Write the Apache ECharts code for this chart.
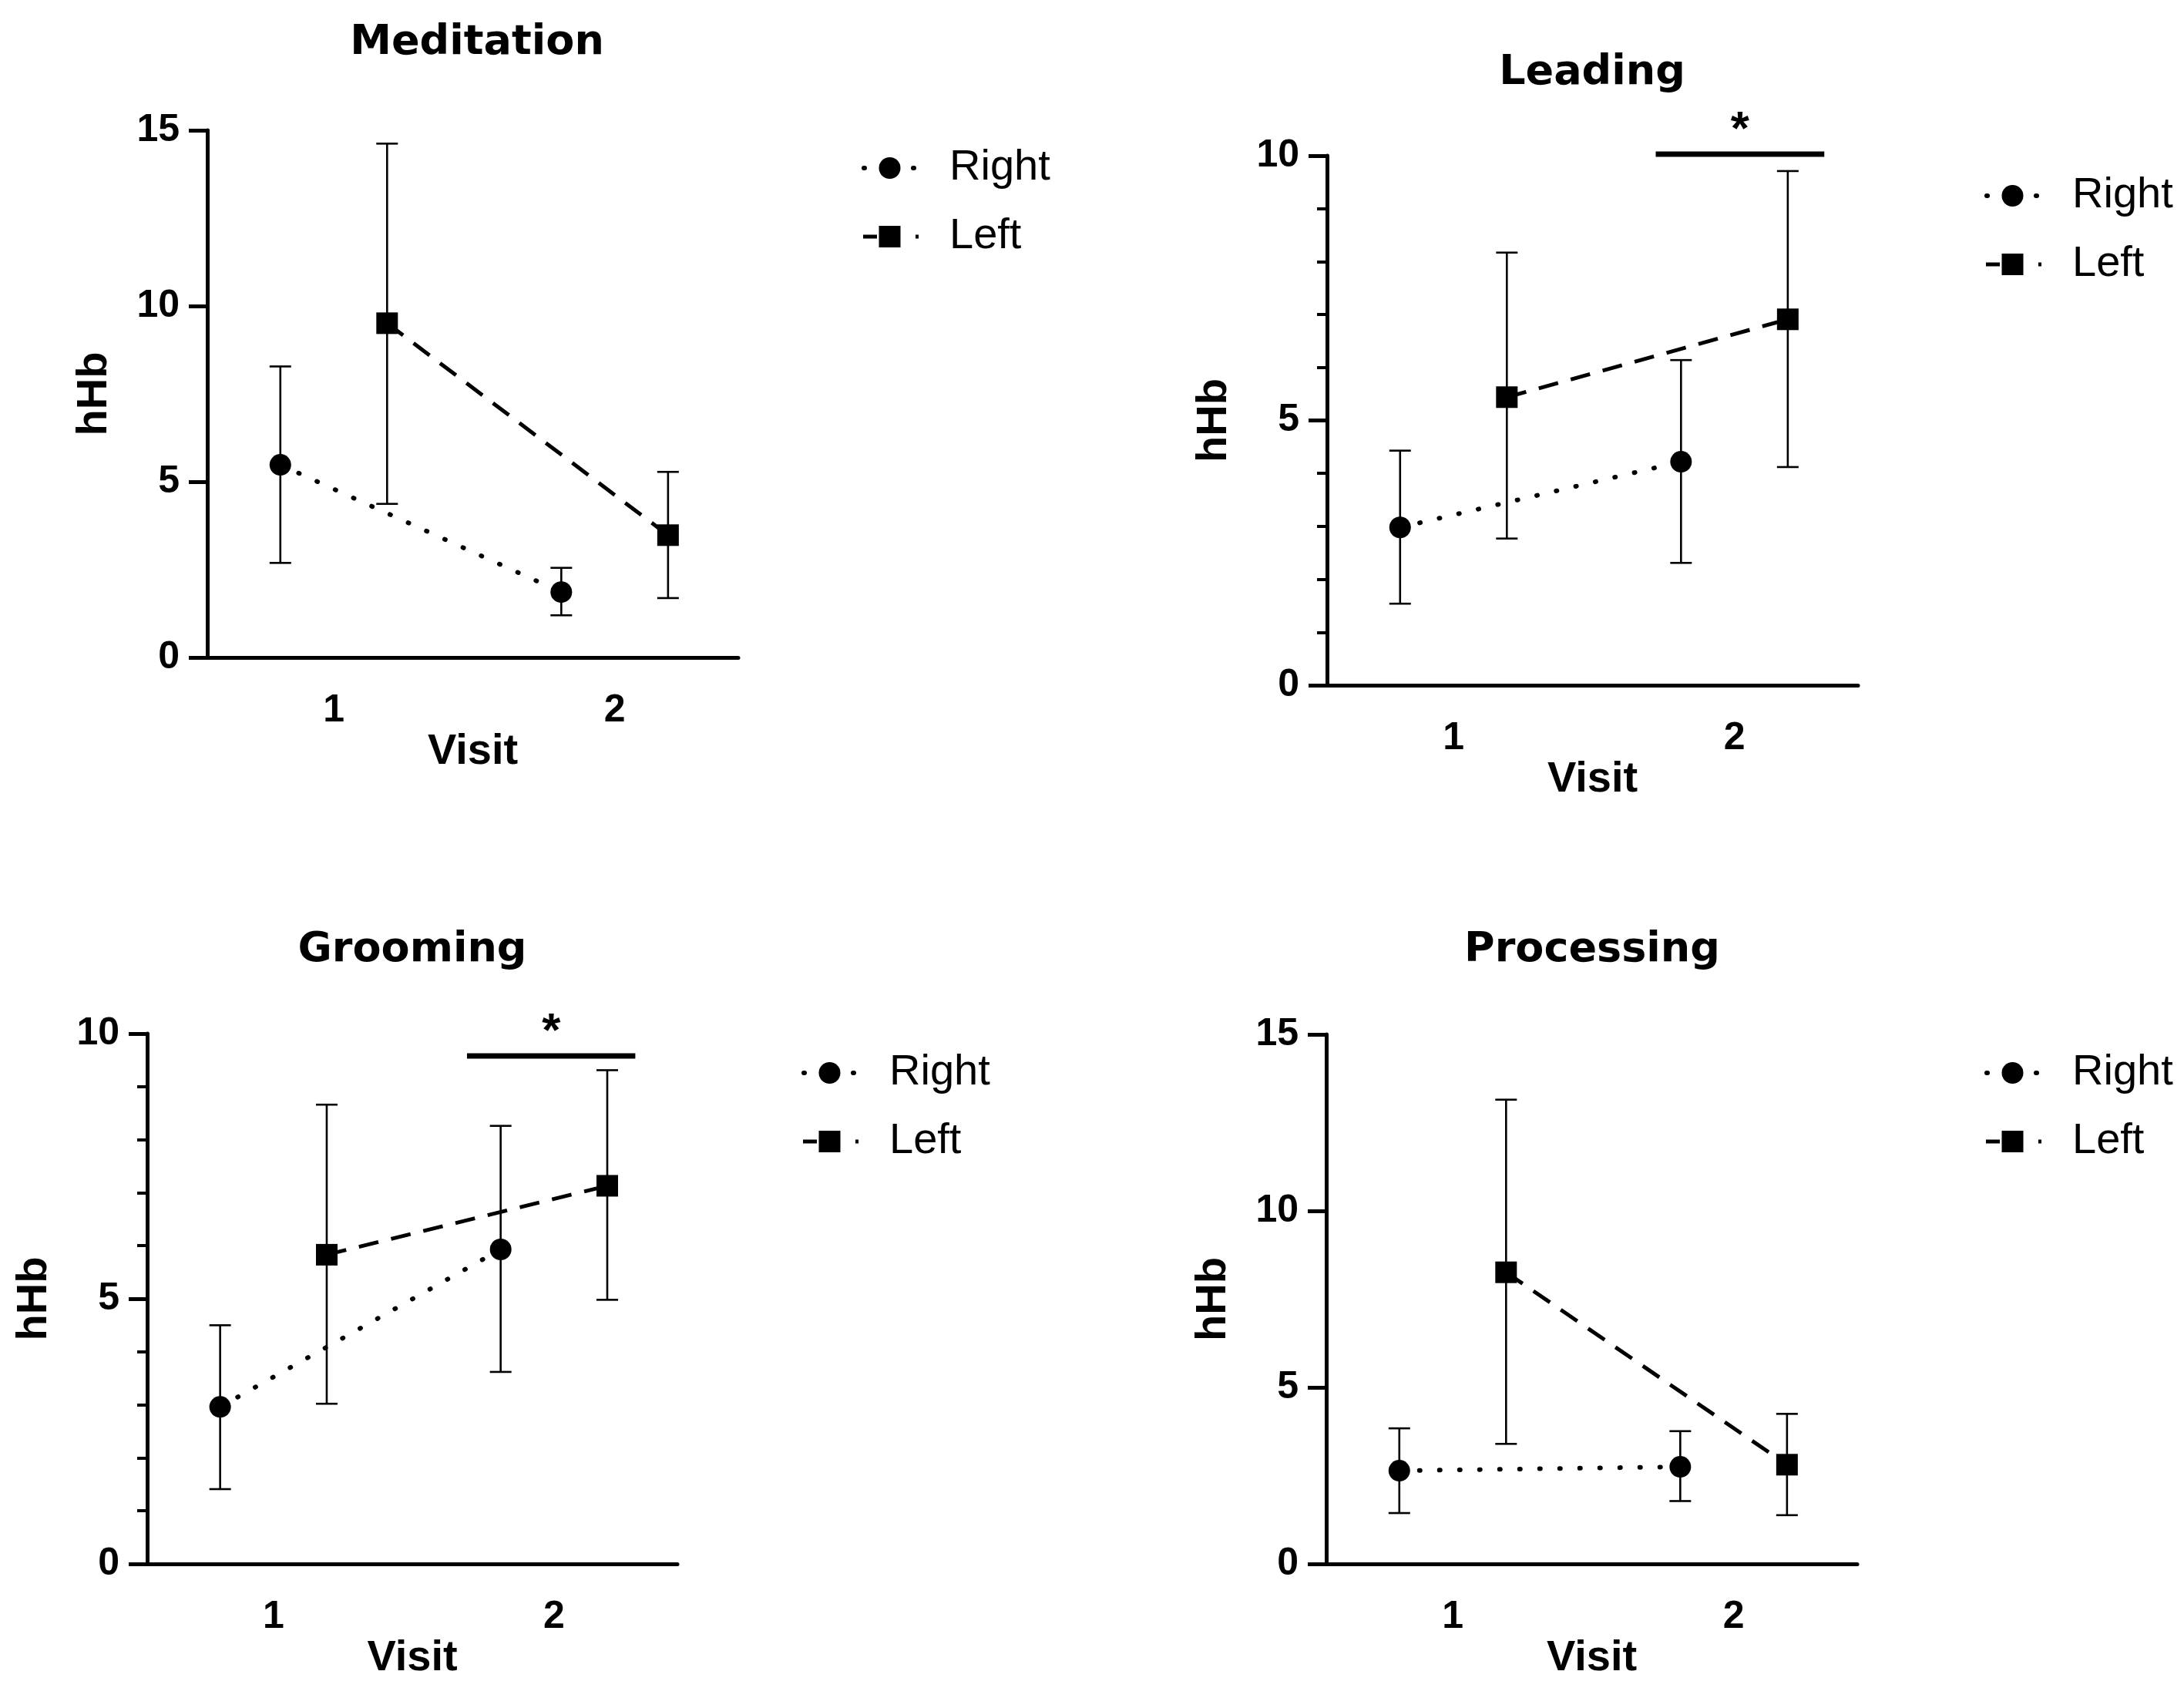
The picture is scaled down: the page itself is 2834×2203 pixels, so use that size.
<!DOCTYPE html>
<html><head><meta charset="utf-8">
<script src="https://cdn.jsdelivr.net/npm/echarts@6.0.0/dist/echarts.min.js"></script>
<style>html,body{margin:0;padding:0;background:#fff}#chart{width:2834px;height:2203px}</style>
</head><body><div id="chart"></div>
<script>
// ---------- DATA ----------
const visits = [1, 2];
const seriesNames = ['Right', 'Left'];
const panelTitles = ['Meditation', 'Leading', 'Grooming', 'Processing'];
const yAxisName = 'hHb';
const xAxisName = 'Visit';
const yMaxes = [15, 10, 10, 15];

const meditationRightMean = [5.48, 1.86];
const meditationRightLow  = [2.69, 1.20];
const meditationRightHigh = [8.28, 2.55];
const meditationLeftMean  = [9.51, 3.48];
const meditationLeftLow   = [4.37, 1.69];
const meditationLeftHigh  = [14.62, 5.28];

const leadingRightMean = [2.98, 4.22];
const leadingRightLow  = [1.54, 2.31];
const leadingRightHigh = [4.43, 6.14];
const leadingLeftMean  = [5.44, 6.91];
const leadingLeftLow   = [2.77, 4.12];
const leadingLeftHigh  = [8.17, 9.71];

const groomingRightMean = [2.96, 5.93];
const groomingRightLow  = [1.41, 3.62];
const groomingRightHigh = [4.50, 8.26];
const groomingLeftMean  = [5.83, 7.13];
const groomingLeftLow   = [3.02, 4.98];
const groomingLeftHigh  = [8.66, 9.31];

const processingRightMean = [2.64, 2.75];
const processingRightLow  = [1.44, 1.78];
const processingRightHigh = [3.84, 3.76];
const processingLeftMean  = [8.26, 2.81];
const processingLeftLow   = [3.40, 1.38];
const processingLeftHigh  = [13.15, 4.25];

// significance annotations: [from visit position, to visit position, hHb level]
const leadingSig  = [1.72, 2.32, 10.03];
const groomingSig = [1.69, 2.29, 9.58];
const sigText = '*';

// ---------- LAYOUT ----------
const panels = [
  {right:[meditationRightMean,meditationRightLow,meditationRightHigh], left:[meditationLeftMean,meditationLeftLow,meditationLeftHigh], sig:null},
  {right:[leadingRightMean,leadingRightLow,leadingRightHigh], left:[leadingLeftMean,leadingLeftLow,leadingLeftHigh], sig:leadingSig},
  {right:[groomingRightMean,groomingRightLow,groomingRightHigh], left:[groomingLeftMean,groomingLeftLow,groomingLeftHigh], sig:groomingSig},
  {right:[processingRightMean,processingRightLow,processingRightHigh], left:[processingLeftMean,processingLeftLow,processingLeftHigh], sig:null}
];
const grids = [
  {left:269, top:169, width:689, height:684},
  {left:1722, top:202, width:689, height:687},
  {left:191, top:1341, width:688, height:688},
  {left:1721, top:1342, width:689, height:687}
];
const minorTicks = [false, true, true, false];
const titlePos = [[619, 56], [2066, 95], [535, 1233], [2066, 1233]];
const legendPos = [[1109, 183], [2566, 219], [1031, 1357], [2566, 1357]];
const dodge = 0.19;
const FONT = '"Liberation Sans", Arial, sans-serif';

const dottedStyle = {color:'#000', width:6, type:[1, 25], cap:'round'};
const dashedStyle = {color:'#000', width:5, type:[26, 17], cap:'butt'};
const legendDotted = {color:'#000', width:6, type:[1, 31], dashOffset:-4, cap:'round'};
const legendDashed = {color:'#000', width:5, type:[18, 50, 5, 20], dashOffset:-3, cap:'butt'};

function errRender(params, api) {
  const x = api.value(0), lo = api.value(1), hi = api.value(2);
  const pLo = api.coord([x, lo]), pHi = api.coord([x, hi]);
  const cap = 14;
  const style = {stroke:'#000', lineWidth:2.6};
  return {type:'group', children:[
    {type:'line', shape:{x1:pLo[0], y1:pLo[1], x2:pHi[0], y2:pHi[1]}, style:style},
    {type:'line', shape:{x1:pLo[0]-cap, y1:pLo[1], x2:pLo[0]+cap, y2:pLo[1]}, style:style},
    {type:'line', shape:{x1:pHi[0]-cap, y1:pHi[1], x2:pHi[0]+cap, y2:pHi[1]}, style:style}
  ]};
}
function sigRender(params, api) {
  const x1 = api.value(0), x2 = api.value(1), y = api.value(2);
  const p1 = api.coord([x1, y]), p2 = api.coord([x2, y]);
  return {type:'group', children:[
    {type:'line', shape:{x1:p1[0], y1:p1[1], x2:p2[0], y2:p2[1]}, style:{stroke:'#000', lineWidth:7}},
    {type:'text', x:(p1[0]+p2[0])/2, y:p1[1]-30, style:{text:sigText, font:'bold 62px ' + FONT, fill:'#000', align:'center', verticalAlign:'middle'}}
  ]};
}

const option = {
  backgroundColor:'#fff',
  animation:false,
  grid:[], xAxis:[], yAxis:[], series:[], legend:[], graphic:[]
};

panels.forEach((p, i) => {
  option.grid.push(Object.assign({containLabel:false}, grids[i]));
  option.xAxis.push({
    type:'value', gridIndex:i, min:0.55, max:2.44,
    name:xAxisName, nameLocation:'middle', nameGap:92,
    nameTextStyle:{fontFamily:FONT, fontWeight:'bold', fontSize:56, color:'#000'},
    axisLine:{show:true, onZero:false, lineStyle:{color:'#000', width:5}},
    axisTick:{show:false},
    splitLine:{show:false},
    axisLabel:{customValues:visits, margin:44, fontFamily:FONT, fontWeight:'bold', fontSize:50, color:'#000'}
  });
  option.yAxis.push({
    type:'value', gridIndex:i, min:0, max:yMaxes[i], interval:5,
    name:yAxisName, nameLocation:'middle', nameGap:118, nameRotate:90,
    nameTextStyle:{fontFamily:FONT, fontWeight:'bold', fontSize:56, color:'#000'},
    axisLine:{show:true, lineStyle:{color:'#000', width:5}},
    axisTick:{show:true, length:24, lineStyle:{color:'#000', width:5}},
    minorTick:{show:minorTicks[i], splitNumber:5, length:13, lineStyle:{color:'#000', width:4}},
    splitLine:{show:false},
    axisLabel:{margin:36, fontFamily:FONT, fontWeight:'bold', fontSize:50, color:'#000'}
  });
  [['right', -dodge, 'circle', dottedStyle, 0], ['left', dodge, 'rect', dashedStyle, 1]].forEach(([key, off, sym, ls, ni]) => {
    const [mean, low, high] = p[key];
    option.series.push({
      type:'custom', name:seriesNames[ni] + ' SEM', xAxisIndex:i, yAxisIndex:i, z:2,
      renderItem:errRender, encode:{x:0, y:[1,2]},
      data: visits.map((v, k) => [v + off, low[k], high[k]])
    });
    option.series.push({
      type:'line', name:seriesNames[ni], xAxisIndex:i, yAxisIndex:i, z:3,
      symbol:sym, symbolSize:28,
      itemStyle:{color:'#000', borderWidth:0},
      lineStyle:ls,
      data: visits.map((v, k) => [v + off, mean[k]])
    });
  });
  if (p.sig) {
    option.series.push({
      type:'custom', name:'sig', xAxisIndex:i, yAxisIndex:i, z:4, clip:false,
      renderItem:sigRender, encode:{x:[0,1], y:2},
      data:[p.sig]
    });
  }
  option.legend.push({
    data:[
      {name:seriesNames[0], lineStyle:legendDotted, itemStyle:{color:'#000'}},
      {name:seriesNames[1], lineStyle:legendDashed, itemStyle:{color:'#000'}}
    ],
    orient:'vertical', left:legendPos[i][0], top:legendPos[i][1],
    itemWidth:75, itemHeight:35, itemGap:29, selectedMode:false,
    textStyle:{fontFamily:FONT, fontSize:56, color:'#000', lineHeight:60, padding:[0,0,0,35]}
  });
  option.graphic.push({
    type:'text', x:titlePos[i][0], y:titlePos[i][1],
    style:{text:panelTitles[i], font:'bold 54px "DejaVu Sans", sans-serif', fill:'#000', align:'center', verticalAlign:'middle'}
  });
});

const chart = echarts.init(document.getElementById('chart'), null, {renderer:'canvas'});
chart.setOption(option);
</script>
</body></html>
